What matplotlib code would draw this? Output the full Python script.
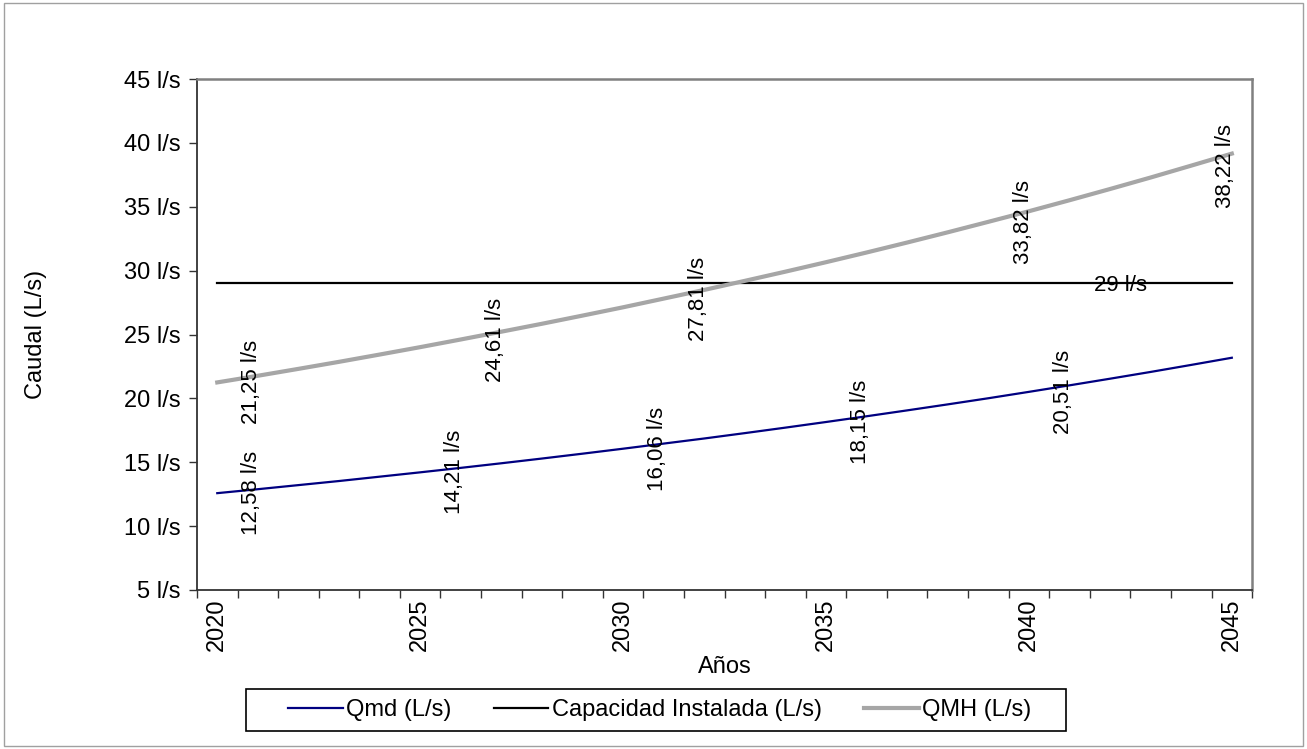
import matplotlib
matplotlib.use("Agg")
import matplotlib.pyplot as plt
from matplotlib.patches import Rectangle
from matplotlib.ticker import FixedLocator

plt.rcParams["font.family"] = ["Liberation Sans", "DejaVu Sans"]

# ---- data ------------------------------------------------------------------
years = list(range(2020, 2046))
qmd = [12.58, 12.89, 13.21, 13.53, 13.87, 14.21, 14.56, 14.92, 15.29, 15.67,
       16.06, 16.46, 16.86, 17.28, 17.71, 18.15, 18.60, 19.06, 19.53, 20.01,
       20.51, 21.02, 21.54, 22.07, 22.62, 23.18]
capacidad = [29.0] * len(years)
qmh = [21.25, 21.77, 22.31, 22.86, 23.43, 24.01, 24.61, 25.22, 25.84, 26.48,
       27.13, 27.81, 28.49, 29.20, 29.92, 30.66, 31.42, 32.20, 33.00, 33.82,
       34.65, 35.51, 36.39, 37.29, 38.22, 39.16]

# which points carry a data label
qmd_label_years = [2020, 2025, 2030, 2035, 2040]
qmh_label_years = [2020, 2026, 2031, 2039, 2044]
cap_label_years = [2042]

y_ticks = [5, 10, 15, 20, 25, 30, 35, 40, 45]
x_label_years = [2020, 2025, 2030, 2035, 2040, 2045]

NAVY = "#000080"
GRAY = "#A6A6A6"
FS = 17
FS_LBL = 16


def fmt(v):
    s = f"{v:.2f}".rstrip("0").rstrip(".")
    return s.replace(".", ",") + " l/s"


W, H = 1307, 749
fig = plt.figure(figsize=(W / 100, H / 100), dpi=100)
fig.patches.append(Rectangle((0.003, 0.004), 0.994, 0.992, transform=fig.transFigure,
                             fill=False, edgecolor="#A0A0A0", linewidth=1.0))
ax = fig.add_axes([0.1507, 0.2123, 0.8073, 0.6822])

ax.plot(years, qmd, color=NAVY, linewidth=1.6, label="Qmd (L/s)", zorder=3)
ax.plot(years, capacidad, color="black", linewidth=1.6, label="Capacidad Instalada (L/s)", zorder=3)
ax.plot(years, qmh, color=GRAY, linewidth=3.0, label="QMH (L/s)", zorder=3)

for yr in qmd_label_years:
    v = qmd[years.index(yr)]
    ax.annotate(fmt(v), (yr, v), xytext=(25, 0), textcoords="offset points",
                ha="center", va="center", rotation=90, fontsize=FS_LBL)
for yr in qmh_label_years:
    v = qmh[years.index(yr)]
    ax.annotate(fmt(v), (yr, v), xytext=(25, 0), textcoords="offset points",
                ha="center", va="center", rotation=90, fontsize=FS_LBL)
for yr in cap_label_years:
    v = capacidad[years.index(yr)]
    ax.annotate(fmt(v), (yr, v), xytext=(7.5, -1.5), textcoords="offset points",
                ha="center", va="center", fontsize=FS_LBL)

ax.set_xlim(2019.5, 2045.5)
ax.set_ylim(5, 45)
ax.set_yticks(y_ticks)
ax.set_yticklabels([f"{v} l/s" for v in y_ticks], fontsize=FS)
ax.set_xticks(x_label_years)
ax.set_xticklabels([str(y) for y in x_label_years], rotation=90, fontsize=FS)
ax.xaxis.set_minor_locator(FixedLocator([y - 0.5 for y in years] + [years[-1] + 0.5]))
ax.tick_params(axis="x", which="major", length=0, pad=6)
ax.tick_params(axis="x", which="minor", length=6, width=1.0, color="#333333")
ax.tick_params(axis="y", length=6, width=1.0, color="#333333", pad=6)

for side in ("left", "bottom"):
    ax.spines[side].set_color("#333333")
    ax.spines[side].set_linewidth(1.3)
for side in ("top", "right"):
    ax.spines[side].set_color("#808080")
    ax.spines[side].set_linewidth(1.8)

ax.set_xlabel("Años", fontsize=FS, labelpad=4)
ax.set_ylabel("Caudal (L/s)", fontsize=FS, labelpad=55)

# legend box drawn by hand, Excel-style with wide side margins
fig.patches.append(Rectangle((246 / W, 1 - 731 / H), 820 / W, 42 / H, transform=fig.transFigure,
                             fill=False, edgecolor="black", linewidth=1.2))
fig.legend(loc="center", bbox_to_anchor=(660 / W, 1 - 710 / H), ncol=3, fontsize=FS,
           frameon=False, handlelength=2.3, handletextpad=0.15, columnspacing=1.8,
           borderpad=0, borderaxespad=0)

fig.savefig("out.png", dpi=100)
